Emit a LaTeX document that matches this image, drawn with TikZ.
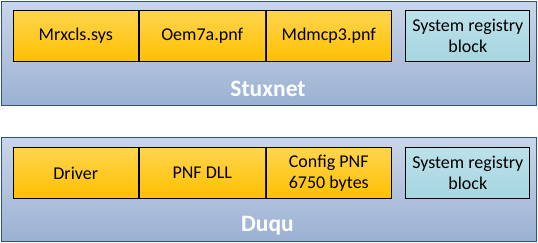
\documentclass[tikz,border=0pt]{standalone}
\usepackage{fontspec}
\setmainfont{Carlito}
\usetikzlibrary{positioning}

\definecolor{framecol}{HTML}{2F528F}
\definecolor{frametop}{HTML}{CAD6E8}
\definecolor{framebot}{HTML}{9BB1D2}
\definecolor{celltop}{HTML}{FFD54F}
\definecolor{cellbot}{HTML}{FFC000}
\definecolor{regtop}{HTML}{BCE1EA}
\definecolor{regbot}{HTML}{A6D6E0}

\begin{document}
\begin{tikzpicture}[x=1pt,y=-1pt,
      frame/.style={draw=framecol,line width=1.5pt,minimum width=535pt,
                    minimum height=104pt,inner sep=0pt,
                    top color=frametop,bottom color=framebot},
      cell/.style={draw,line width=0.8pt,minimum width=125.7pt,
                   minimum height=51pt,inner sep=0pt,align=center,
                   top color=celltop,bottom color=cellbot,
                   font=\fontsize{18}{21}\selectfont},
      regblock/.style={cell,minimum width=124pt,
                       top color=regtop,bottom color=regbot},
      title/.style={text=white,anchor=base,
                    font=\bfseries\fontsize{23.5}{26}\selectfont}]

    \useasboundingbox (0,0) rectangle (538,243);

    % Stuxnet
    \node[frame] (stux) at (269,53.5) {};
    \node[cell, anchor=north west] (mrx) at (12.5,10) {Mrxcls.sys};
    \node[cell, right=0pt of mrx]  (oem)  {Oem7a.pnf};
    \node[cell, right=0pt of oem]  (mdm)  {Mdmcp3.pnf};
    \node[regblock, right=13.4pt of mdm] (streg) {System registry\\block};
    \node[title] (stuxlbl) at (268,96.7) {Stuxnet};

    % Duqu
    \node[frame] (duqu) at (269,189.5) {};
    \node[cell, anchor=north west] (drv) at (12.5,147) {Driver};
    \node[cell, right=0pt of drv]  (pnf)  {PNF DLL};
    \node[cell, right=0pt of pnf]  (cfg)  {Config PNF\\6750 bytes};
    \node[regblock, right=13.4pt of cfg] (dureg) {System registry\\block};
    \node[title] (duqulbl) at (267.5,231.7) {Duqu};
\end{tikzpicture}
\end{document}
